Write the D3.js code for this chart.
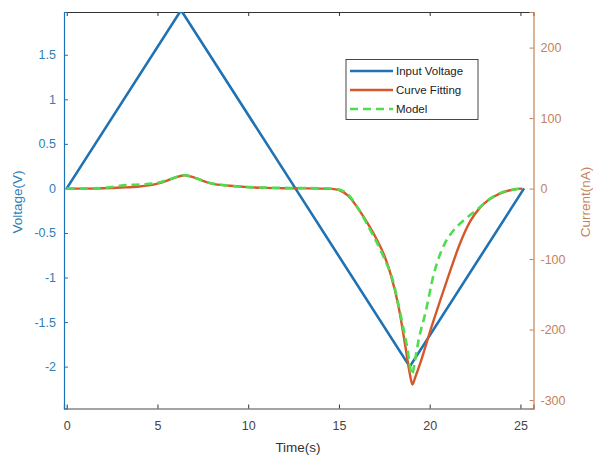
<!DOCTYPE html>
<html><head><meta charset="utf-8">
<script src="https://cdn.jsdelivr.net/npm/d3@7"></script>
<style>body{margin:0;background:#fff;}svg{display:block;font-family:"Liberation Sans",Arial,sans-serif;}</style>
</head><body>
<svg id="chart" width="593" height="459"></svg>
<script>
// Data
const voltageT = [0, 6.3, 12.6, 18.9, 25.2];
const voltageV = [0, 2, 0, -2, 0];

const fitT = [0, 1, 2, 3, 4, 4.5, 5, 5.5, 6, 6.5, 7, 7.5, 8, 9, 10, 11, 12, 13, 14, 14.6, 15.0, 15.5, 16.18, 16.6, 17.1, 17.5, 17.83, 18.29, 18.66, 18.9, 19.05, 19.2, 19.49, 20.04, 20.59, 21.14, 21.67, 22.22, 22.77, 23.5, 24.2, 24.7, 25.1];
const fitI = [0, 0, 0.5, 1.5, 3, 4.5, 7, 11, 16, 19, 16, 11, 7, 4, 2, 1, 0.5, 0.3, 0, -0.5, -2, -10, -33, -50, -73, -95, -120, -168, -224, -262, -278, -268, -247, -201, -158, -116, -78, -47, -27, -12, -4, -1, 0];

const modelT = [0, 2, 3.3, 4.2, 5.15, 5.8, 6.5, 7.2, 7.9, 9, 10, 12, 14, 14.5, 15.0, 15.44, 16.1, 16.73, 17.46, 18.01, 18.38, 18.75, 19.03, 19.15, 19.39, 19.76, 20.22, 20.59, 20.85, 21.14, 21.5, 21.88, 22.6, 23.35, 24.0, 24.6, 25];
const modelI = [0, 1, 5, 6, 9, 14, 19, 14, 8, 4, 2, 1, 0.5, 0, -1.5, -7, -30, -59, -97, -134, -177, -224, -264, -250, -215, -177, -122, -92, -77, -65, -54, -45, -30, -14, -5, -1.5, 0];

const xTicks = [0, 5, 10, 15, 20, 25];
const leftTicks = [-2, -1.5, -1, -0.5, 0, 0.5, 1, 1.5];
const rightTicks = [-300, -200, -100, 0, 100, 200];
const legendLabels = ["Input Voltage", "Curve Fitting", "Model"];

// Layout
const L = 64, R = 533.5, T = 12, B = 408.5;
const blue = "#1f72b3", orange = "#d6582a", green = "#4fdd4f";
const leftCol = "#2f7fb8", rightCol = "#c4825b";

const svg = d3.select("#chart");
const x = d3.scaleLinear().domain([-0.15, 25.72]).range([L, R]);
const yL = d3.scaleLinear().domain([-2.47, 1.98]).range([B, T]);
const yR = d3.scaleLinear().domain([-312, 250.5]).range([B, T]);

svg.append("defs").append("clipPath").attr("id", "clip")
  .append("rect").attr("x", L).attr("y", T).attr("width", R - L).attr("height", B - T);

// Axes
const fmt = d => String(d);
const xAxis = d3.axisBottom(x).tickValues(xTicks).tickSize(-4).tickPadding(13).tickFormat(fmt);
const gx = svg.append("g").attr("transform", `translate(0,${B})`).call(xAxis);
gx.select(".domain").attr("stroke", "#4a4a4a").attr("stroke-width", 1.2);
gx.selectAll(".tick line").attr("stroke", "#333");
gx.selectAll("text").attr("fill", "#444").attr("font-size", 12.5);

const gxt = svg.append("g").attr("transform", `translate(0,${T})`)
  .call(d3.axisTop(x).tickValues(xTicks).tickSize(-4).tickFormat(""));
gxt.select(".domain").attr("stroke", "#333").attr("stroke-width", 1);
gxt.selectAll(".tick line").attr("stroke", "#333");

const gl = svg.append("g").attr("transform", `translate(${L},0)`)
  .call(d3.axisLeft(yL).tickValues(leftTicks).tickSize(-4).tickPadding(8).tickFormat(fmt));
gl.select(".domain").attr("stroke", blue).attr("stroke-width", 1.2);
gl.selectAll(".tick line").attr("stroke", blue);
gl.selectAll("text").attr("fill", leftCol).attr("font-size", 12.5);

const gr = svg.append("g").attr("transform", `translate(${R},0)`)
  .call(d3.axisRight(yR).tickValues(rightTicks).tickSize(-4).tickPadding(7).tickFormat(fmt));
gr.select(".domain").attr("stroke", rightCol).attr("stroke-width", 1.2);
gr.selectAll(".tick line").attr("stroke", rightCol);
gr.selectAll("text").attr("fill", rightCol).attr("font-size", 12.5);

// Axis labels
svg.append("text").attr("x", 298).attr("y", 452).attr("text-anchor", "middle")
  .attr("font-size", 13.5).attr("fill", "#333").text("Time(s)");
svg.append("text").attr("transform", "translate(22,202) rotate(-90)").attr("text-anchor", "middle")
  .attr("font-size", 13.5).attr("fill", leftCol).text("Voltage(V)");
svg.append("text").attr("transform", "translate(590,202) rotate(-90)").attr("text-anchor", "middle")
  .attr("font-size", 13.5).attr("fill", rightCol).text("Current(nA)");

// Lines
const plot = svg.append("g").attr("clip-path", "url(#clip)");
const vLine = d3.line().x(d => x(d[0])).y(d => yL(d[1]));
const iLine = d3.line().x(d => x(d[0])).y(d => yR(d[1])).curve(d3.curveMonotoneX);

plot.append("path").datum(d3.zip(voltageT, voltageV)).attr("d", vLine)
  .attr("fill", "none").attr("stroke", blue).attr("stroke-width", 2.6).attr("stroke-linejoin", "miter");
plot.append("path").datum(d3.zip(fitT, fitI)).attr("d", iLine)
  .attr("fill", "none").attr("stroke", orange).attr("stroke-width", 2.4);
plot.append("path").datum(d3.zip(modelT, modelI)).attr("d", iLine)
  .attr("fill", "none").attr("stroke", green).attr("stroke-width", 2.6).attr("stroke-dasharray", "8,5");

// Legend
const lg = svg.append("g");
lg.append("rect").attr("x", 346).attr("y", 59.5).attr("width", 132).attr("height", 60)
  .attr("fill", "#fff").attr("stroke", "#333").attr("stroke-width", 0.9);
const legStyles = [
  {c: blue, dash: null},
  {c: orange, dash: null},
  {c: green, dash: "8,5"}
];
legendLabels.forEach((lab, i) => {
  const yy = 71 + i * 19;
  const ln = lg.append("line").attr("x1", 350).attr("x2", 393).attr("y1", yy).attr("y2", yy)
    .attr("stroke", legStyles[i].c).attr("stroke-width", 2.6);
  if (legStyles[i].dash) ln.attr("stroke-dasharray", legStyles[i].dash);
  lg.append("text").attr("x", 396).attr("y", yy + 4).attr("font-size", 11.5).attr("fill", "#222").text(lab);
});
</script>
</body></html>
